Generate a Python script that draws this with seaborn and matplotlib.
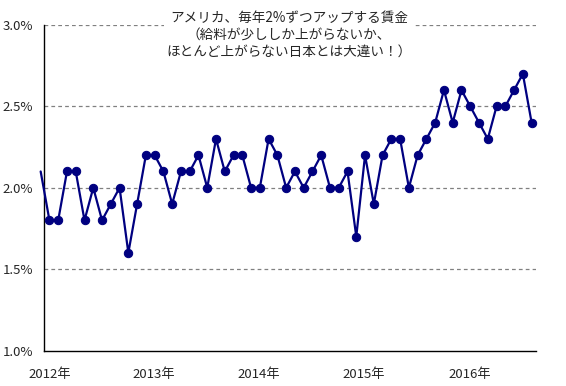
import matplotlib
matplotlib.use("Agg")
import matplotlib.pyplot as plt
import seaborn as sns
import numpy as np
import pandas as pd

# Data: monthly US wage growth (%), first value just left of the axis
values = [2.1, 1.8, 1.8, 2.1, 2.1, 1.8, 2.0, 1.8, 1.9, 2.0,
          1.6, 1.9, 2.2, 2.2, 2.1, 1.9, 2.1, 2.1, 2.2, 2.0,
          2.3, 2.1, 2.2, 2.2, 2.0, 2.0, 2.3, 2.2, 2.0, 2.1,
          2.0, 2.1, 2.2, 2.0, 2.0, 2.1, 1.7, 2.2, 1.9, 2.2,
          2.3, 2.3, 2.0, 2.2, 2.3, 2.4, 2.6, 2.4, 2.6, 2.5,
          2.4, 2.3, 2.5, 2.5, 2.6, 2.7, 2.4]
year_labels = ["2012年", "2013年", "2014年", "2015年", "2016年"]
y_ticks = [1.0, 1.5, 2.0, 2.5, 3.0]
title_text = "アメリカ、毎年2%ずつアップする賃金\n（給料が少ししか上がらないか、\nほとんど上がらない日本とは大違い！）"

df = pd.DataFrame({"month": np.arange(len(values)), "rate": values})

sns.set_style("white")
plt.rcParams['font.family'] = ['Noto Sans CJK JP', 'DejaVu Sans']

W, H = 566, 386
fig = plt.figure(figsize=(W / 100, H / 100), dpi=100)
ax = fig.add_axes([44 / W, 1 - 350.5 / H, (536 - 44) / W, (350.5 - 25) / H])

navy = "#000080"
sns.lineplot(data=df, x="month", y="rate", ax=ax, color=navy, linewidth=1.6,
             marker="o", markersize=6, markeredgecolor=navy,
             markerfacecolor=navy, markevery=list(range(1, len(values))),
             clip_on=False, zorder=3)

ax.set_xlim(0.38, 56.5)
ax.set_ylim(1.0, 3.0)

# gridlines
for yv in y_ticks[1:]:
    ax.axhline(yv, color="#808080", linestyle=(0, (3, 2.5)), linewidth=0.9, zorder=0)

ax.set_yticks(y_ticks)
ax.set_yticklabels([f"{v:.1f}%" for v in y_ticks], fontsize=9.5)
ax.tick_params(axis="y", length=0, pad=8)

# year ticks between December and January
major = [12.5 + 12 * i for i in range(len(year_labels) - 1)]
ax.set_xticks(major)
ax.set_xticklabels([])
ax.tick_params(axis="x", direction="in", length=4, width=0.9, color="black")
label_pos = [1.0] + [m + 0.4 for m in major]
for xp, lab in zip(label_pos, year_labels):
    ax.text(xp, -0.075, lab, transform=ax.get_xaxis_transform(), ha="center",
            va="center", fontsize=9.5)

ax.set_xlabel("")
ax.set_ylabel("")
for s in ["top", "right"]:
    ax.spines[s].set_visible(False)
for s in ["left", "bottom"]:
    ax.spines[s].set_color("black")
    ax.spines[s].set_linewidth(1.0)

fig.text(289 / W, 1 - 11 / H, title_text, ha="center", va="top", fontsize=9.8,
         linespacing=1.25,
         bbox=dict(facecolor="white", edgecolor="none", pad=2))

fig.savefig("out.png", dpi=100)
